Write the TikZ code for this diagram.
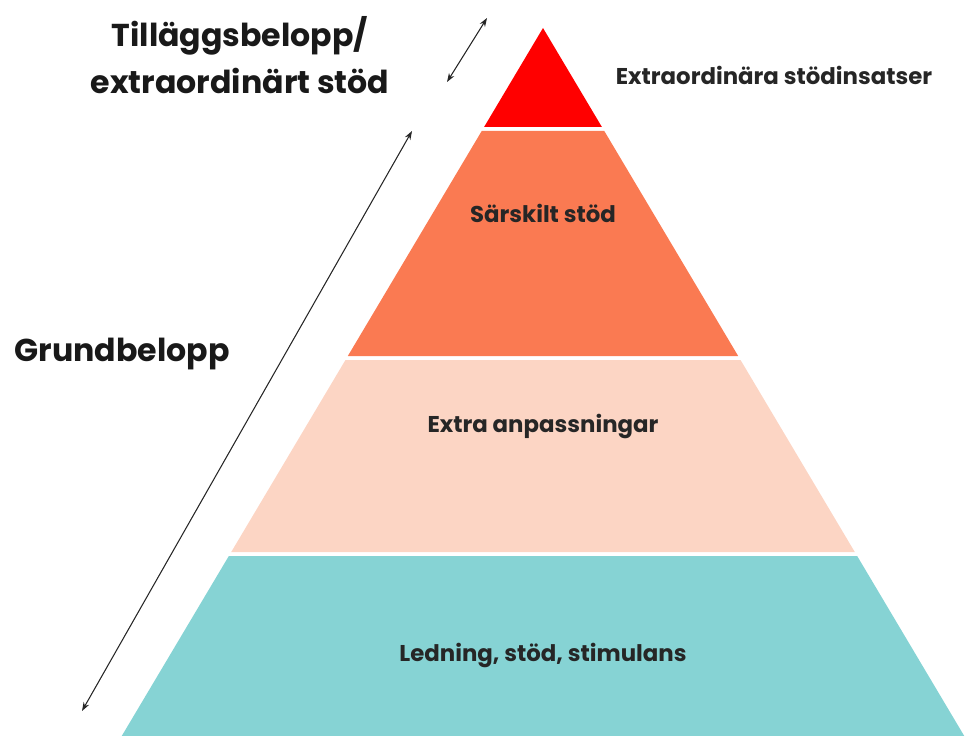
\documentclass[tikz,border=0pt]{standalone}
\usepackage{fontspec}
\setmainfont{Poppins}
\usepackage{tikz}
\usetikzlibrary{arrows.meta}
\definecolor{topred}{HTML}{FF0000}
\definecolor{midorange}{HTML}{FA7A52}
\definecolor{peach}{HTML}{FCD5C4}
\definecolor{teal}{HTML}{86D3D4}
\newcommand{\band}[3] % {top y}{bottom y}{colour}, apex at (543,28)
{
	\fill [#3] ({543-0.595*(#1-28)},#1) -- ({543+0.595*(#1-28)},#1) -- ({543+0.595*(#2-28)},#2) -- ({543-0.595*(#2-28)},#2) -- cycle;
}
\tikzset{
	level/.style={font=\bfseries\fontsize{13}{15}\selectfont, text=black!85},
	side/.style={font=\bfseries\fontsize{18}{27}\selectfont, text=black!90, align=center},
	span/.style={<->, >={Stealth[length=5pt,width=3.5pt]}, semithick, black!85}
}
\begin{document}
\begin{tikzpicture}[x=0.02cm, y=-0.02cm]
	\useasboundingbox (0,0) rectangle (966,736);

	\band{28}{127}{topred}
	\band{131}{356}{midorange}
	\band{360}{552}{peach}
	\band{556}{740}{teal}

	\node[level] (extra) at (774,75) {Extraordinära stödinsatser};
	\node[level] (sarskilt) at (543,213) {Särskilt stöd};
	\node[level] (anpassning) at (543,426) {Extra anpassningar};
	\node[level] (ledning) at (543,655) {Ledning, stöd, stimulans};

	\node[side] (tillagg) at (240,55) {Tilläggsbelopp/\\extraordinärt stöd};
	\node[side] (grund) at (122,354) {Grundbelopp};

	\coordinate (sa) at (447,82);
	\coordinate (sb) at (487,18);
	\coordinate (la) at (82,711);
	\coordinate (lb) at (412,131);
	\draw [span] (sa) -- (sb);
	\draw [span] (la) -- (lb);
\end{tikzpicture}
\end{document}
